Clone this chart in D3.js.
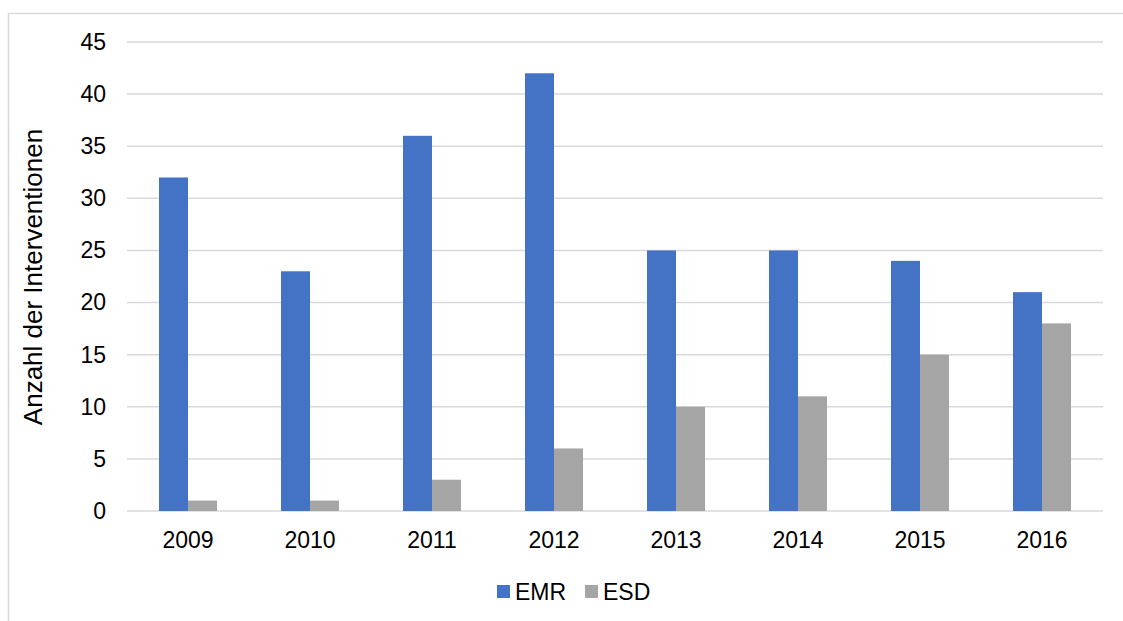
<!DOCTYPE html>
<html><head><meta charset="utf-8">
<script src="https://cdn.jsdelivr.net/npm/d3@7"></script>
<style>html,body{margin:0;padding:0;background:#fff;}svg{display:block;font-family:"Liberation Sans",Arial,sans-serif;}</style>
</head><body>
<svg id="c" width="1123" height="621"></svg>
<script>
const categories = ["2009","2010","2011","2012","2013","2014","2015","2016"];
const seriesNames = ["EMR","ESD"];
const emr = [32,23,36,42,25,25,24,21];
const esd = [1,1,3,6,10,11,15,18];
const yTicks = [0,5,10,15,20,25,30,35,40,45];
const colors = ["#4472C4","#A5A5A5"];

(function(){
const svg = d3.select("#c");
const FS = 23;
// outer chart border
svg.append("path").attr("d","M8.5,621 L8.5,13.5 L1123,13.5").attr("fill","none").attr("stroke","#D9D9D9").attr("stroke-width",1.5);

const pL=127, pR=1103, pT=42, pB=511;
const x0 = d3.scaleBand().domain(categories).range([pL,pR]).padding(0);
const x1 = d3.scaleBand().domain(seriesNames).range([0,58]);
const y = d3.scaleLinear().domain([0,45]).range([pB,pT]);

// gridlines
svg.append("g").selectAll("line").data(yTicks).join("line")
  .attr("x1",pL).attr("x2",pR)
  .attr("y1",d=>y(d)).attr("y2",d=>y(d))
  .attr("stroke","#D9D9D9").attr("stroke-width",1.5);

// y axis labels
const yAxis = d3.axisLeft(y).tickValues(yTicks).tickSize(0).tickPadding(0);
const gy = svg.append("g").attr("transform",`translate(106,0)`).call(yAxis);
gy.select(".domain").remove();
gy.selectAll("text").attr("font-size",FS).attr("fill","#000").attr("font-family","Liberation Sans, Arial, sans-serif");

// bars
const data = categories.map((c,i)=>({c, vals:[emr[i],esd[i]]}));
const g = svg.append("g");
data.forEach(d=>{
  const cx = x0(d.c)+x0.bandwidth()/2 - 29;
  d.vals.forEach((v,j)=>{
    g.append("rect")
      .attr("x",cx + x1(seriesNames[j]))
      .attr("y",y(v))
      .attr("width",x1.bandwidth())
      .attr("height",y(0)-y(v))
      .attr("fill",colors[j]);
  });
});

// x axis labels
const xAxis = d3.axisBottom(x0).tickSize(0).tickPadding(0);
const gx = svg.append("g").attr("transform",`translate(0,548)`).call(xAxis);
gx.select(".domain").remove();
gx.selectAll("text").attr("font-size",FS).attr("fill","#000").attr("dy","0").attr("font-family","Liberation Sans, Arial, sans-serif");

// y axis title
svg.append("text").attr("transform",`translate(42,277) rotate(-90)`)
  .attr("text-anchor","middle").attr("font-size",26).attr("fill","#000").text("Anzahl der Interventionen");

// legend
const legX = [497,585];
seriesNames.forEach((s,i)=>{
  svg.append("rect").attr("x",legX[i]).attr("y",585).attr("width",13).attr("height",13).attr("fill",colors[i]);
  svg.append("text").attr("x",legX[i]+18).attr("y",600).attr("font-size",FS).attr("fill","#000").text(s);
});
})();
</script>
</body></html>
